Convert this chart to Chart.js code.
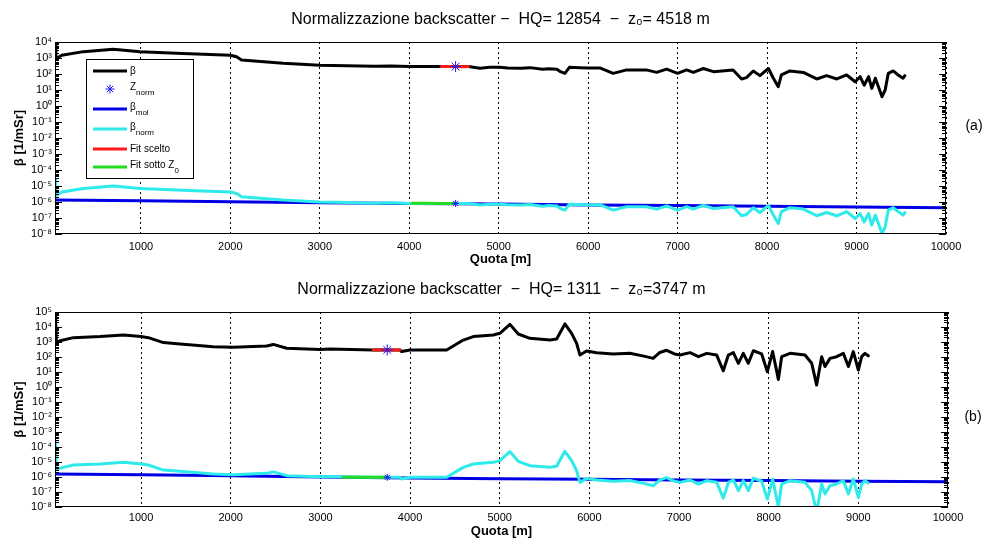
<!DOCTYPE html>
<html>
<head>
<meta charset="utf-8">
<script src="https://cdn.jsdelivr.net/npm/chart.js@4.4.0/dist/chart.umd.min.js"></script>
<style>
  html, body { margin: 0; padding: 0; background: #fff; }
  .panel { width: 988px; height: 270px; }
</style>
</head>
<body>
<div class="panel"><canvas id="chartA" width="988" height="270"></canvas></div>
<div class="panel"><canvas id="chartB" width="988" height="270"></canvas></div>
<script>
// ---- panel (a): HQ = 12854, z0 = 4518 m ----
const quotaA = [40, 50, 115, 357, 690, 990, 1470, 2000, 2070, 2125,
    2590, 3000, 3300, 3600, 3800, 4000, 4360, 4518, 4660, 4790,
    4900, 5010, 5100, 5250, 5350, 5490, 5560, 5650, 5690, 5740,
    5790, 5907, 6000, 6130, 6280, 6430, 6650, 6765, 6877, 7000,
    7100, 7175, 7287, 7400, 7620, 7715, 7770, 7845, 7920, 8015,
    8070, 8125, 8160, 8255, 8405, 8555, 8665, 8780, 8890, 8985,
    9040, 9085, 9135, 9170, 9210, 9285, 9320, 9355, 9410, 9465,
    9520, 9540];
const betaA = [9.0e3, 9.0e2, 1.5e3, 2.5e3, 3.5e3, 2.5e3, 1.9e3, 1.5e3, 1.2e3, 7.6e2,
    4.7e2, 3.5e2, 3.3e2, 3.0e2, 3.2e2, 2.9e2, 2.9e2, 2.9e2, 2.9e2, 2.3e2,
    2.6e2, 2.6e2, 2.4e2, 2.3e2, 2.5e2, 1.95e2, 2.15e2, 2.0e2, 1.4e2, 1.1e2,
    2.6e2, 2.5e2, 2.35e2, 2.4e2, 1.1e2, 1.8e2, 1.8e2, 1.26e2, 2.0e2, 1.1e2,
    1.8e2, 1.26e2, 2.2e2, 1.4e2, 1.8e2, 4.9e1, 5.9e1, 1.55e2, 7.9e1, 2.2e2,
    5.4e1, 1.6e1, 8.7e1, 1.55e2, 1.26e2, 4.9e1, 7.9e1, 4.9e1, 8.7e1, 3.3e1,
    6.8e1, 2.0e1, 6.8e1, 1.26e1, 5.4e1, 3.8, 1.0e1, 1.1e2, 1.55e2, 8.7e1,
    5.4e1, 7.9e1];
const betaNormA = [2.4e-5, 2.5e-6, 4.2e-6, 7.0e-6, 9.9e-6, 7.0e-6, 5.4e-6, 4.2e-6, 3.4e-6, 2.1e-6,
    1.32e-6, 9.9e-7, 9.3e-7, 8.5e-7, 9.0e-7, 8.2e-7, 8.2e-7, 8.2e-7, 8.2e-7, 6.5e-7,
    7.3e-7, 7.3e-7, 6.8e-7, 6.5e-7, 7.0e-7, 5.5e-7, 6.1e-7, 5.6e-7, 3.9e-7, 3.1e-7,
    7.3e-7, 7.0e-7, 6.6e-7, 6.8e-7, 3.1e-7, 5.1e-7, 5.1e-7, 3.6e-7, 5.6e-7, 3.1e-7,
    5.1e-7, 3.6e-7, 6.2e-7, 3.9e-7, 5.1e-7, 1.38e-7, 1.66e-7, 4.4e-7, 2.2e-7, 6.2e-7,
    1.52e-7, 4.5e-8, 2.5e-7, 4.4e-7, 3.6e-7, 1.38e-7, 2.2e-7, 1.38e-7, 2.5e-7, 9.3e-8,
    1.9e-7, 5.6e-8, 1.9e-7, 3.6e-8, 1.52e-7, 1.07e-8, 2.8e-8, 3.1e-7, 4.4e-7, 2.5e-7,
    1.52e-7, 2.2e-7];
const quotaMolA = [40, 1000, 2000, 3000, 4000, 5000, 6000, 7000, 8000, 9000, 10000];
const betaMolA = [1.35e-6, 1.2e-6, 1.05e-6, 8.9e-7, 8.1e-7, 7.4e-7, 6.6e-7, 6.0e-7, 5.5e-7, 4.9e-7, 4.3e-7];
const quotaFitA = [4360, 4440, 4518, 4600, 4660];
const fitSceltoA = [2.9e2, 2.95e2, 2.9e2, 2.85e2, 2.9e2];
const quotaSottoA = [4030, 4200, 4350, 4518];
const fitSottoA = [8.4e-7, 8.3e-7, 8.2e-7, 8.1e-7];
const quotaStarA = [4518, 4518];
const starA = [2.9e2, 8.2e-7];

// ---- panel (b): HQ = 1311, z0 = 3747 m ----
const quotaB = [41, 48, 55, 97, 245, 543, 803, 1000, 1081, 1249,
    1435, 1806, 2029, 2401, 2475, 2624, 2996, 3107, 3590, 3746,
    3887, 3906, 4000, 4408, 4594, 4705, 4928, 5002, 5114, 5207,
    5337, 5560, 5635, 5727, 5802, 5858, 5895, 5969, 6080, 6266,
    6451, 6620, 6711, 6786, 6861, 6950, 7011, 7123, 7216, 7309,
    7420, 7494, 7550, 7606, 7662, 7717, 7773, 7829, 7922, 7985,
    8044, 8108, 8145, 8238, 8405, 8480, 8535, 8591, 8628, 8684,
    8758, 8833, 8889, 8944, 9000, 9037, 9074, 9111];
const betaB = [6.0e4, 2.0e4, 1.0e3, 1.2e3, 1.95e3, 2.3e3, 2.95e3, 2.3e3, 1.95e3, 9.1e2,
    7.4e2, 4.9e2, 4.4e2, 5.4e2, 6.9e2, 3.8e2, 3.2e2, 3.4e2, 2.95e2, 2.95e2,
    2.95e2, 2.3e2, 2.95e2, 2.95e2, 1.35e3, 2.3e3, 2.95e3, 3.8e3, 1.5e4, 3.4e3,
    1.75e3, 1.35e3, 1.6e3, 1.6e4, 3.8e3, 8.1e2, 1.35e2, 2.5e2, 1.95e2, 1.6e2,
    1.8e2, 1.1e2, 8.1e1, 2.0e2, 2.8e2, 1.6e2, 1.35e2, 1.95e2, 1.05e2, 1.75e2,
    1.35e2, 1.2e1, 1.35e2, 1.95e2, 3.8e1, 1.75e2, 3.8e1, 2.6e2, 1.6e2, 1.05e1,
    2.3e2, 3.2, 1.05e2, 1.75e2, 1.35e2, 3.8e1, 1.35, 1.05e2, 2.3e1, 8.1e1,
    1.05e2, 1.75e2, 2.3e1, 2.3e2, 1.35e1, 1.05e2, 1.75e2, 1.2e2];
const betaNormB = [1.94e-4, 6.5e-5, 3.2e-6, 3.9e-6, 6.3e-6, 7.4e-6, 9.5e-6, 7.4e-6, 6.3e-6, 2.9e-6,
    2.4e-6, 1.59e-6, 1.42e-6, 1.75e-6, 2.2e-6, 1.23e-6, 1.04e-6, 1.1e-6, 9.5e-7, 9.5e-7,
    9.5e-7, 7.4e-7, 9.5e-7, 9.5e-7, 4.4e-6, 7.4e-6, 9.5e-6, 1.23e-5, 4.9e-5, 1.1e-5,
    5.7e-6, 4.4e-6, 5.2e-6, 5.2e-5, 1.23e-5, 2.6e-6, 4.4e-7, 8.1e-7, 6.3e-7, 5.2e-7,
    5.8e-7, 3.6e-7, 2.6e-7, 6.5e-7, 9.1e-7, 5.2e-7, 4.4e-7, 6.3e-7, 3.4e-7, 5.7e-7,
    4.4e-7, 3.9e-8, 4.4e-7, 6.3e-7, 1.23e-7, 5.7e-7, 1.23e-7, 8.4e-7, 5.2e-7, 3.4e-8,
    7.4e-7, 1.04e-8, 3.4e-7, 5.7e-7, 4.4e-7, 1.23e-7, 4.4e-9, 3.4e-7, 7.4e-8, 2.6e-7,
    3.4e-7, 5.7e-7, 7.4e-8, 7.4e-7, 4.4e-8, 3.4e-7, 5.7e-7, 3.9e-7];
const quotaMolB = [41, 1000, 2000, 3000, 4000, 5000, 6000, 7000, 8000, 9000, 10000];
const betaMolB = [1.6e-6, 1.4e-6, 1.2e-6, 1.0e-6, 8.5e-7, 7.6e-7, 7.0e-7, 6.3e-7, 5.8e-7, 5.3e-7, 4.8e-7];
const quotaFitB = [3590, 3680, 3746, 3820, 3887];
const fitSceltoB = [2.95e2, 3.0e2, 2.95e2, 2.9e2, 2.95e2];
const quotaSottoB = [3256, 3450, 3600, 3746];
const fitSottoB = [9.8e-7, 9.6e-7, 9.5e-7, 9.5e-7];
const quotaStarB = [3746, 3746];
const starB = [2.95e2, 9.5e-7];

const quotaTicks = [1000, 2000, 3000, 4000, 5000, 6000, 7000, 8000, 9000, 10000];

const FONT = '"Liberation Sans", Arial, Helvetica, sans-serif';
const C_BETA = '#000000', C_MOL = '#0000e6', C_NORM = '#2eeaea';
const C_RED = '#ff1a1a', C_GREEN = '#22dd22', C_STAR = '#1a1aff';

const SUP = {'0': '⁰', '1': '¹', '2': '²', '3': '³', '4': '⁴', '5': '⁵', '6': '⁶', '7': '⁷', '8': '⁸', '9': '⁹', '-': '⁻'};
const pow10Label = v => '10' + String(Math.round(Math.log10(v))).split('').map(c => SUP[c]).join('');
const pts = (xs, ys) => xs.map((x, i) => ({x: x, y: ys[i]}));

function lineSet(label, xs, ys, color, order) {
    return {
        label: label, data: pts(xs, ys), borderColor: color, backgroundColor: color,
        borderWidth: 3, pointRadius: 0, tension: 0, borderJoinStyle: 'round',
        borderCapStyle: 'round', order: order
    };
}

// frame, inside log ticks on both sides, panel tag
const framePlugin = {
    id: 'frame',
    afterDraw(chart, args, opts) {
        const {ctx, chartArea: a} = chart;
        const y = chart.scales.y;
        ctx.save();
        ctx.strokeStyle = '#000';
        ctx.lineWidth = 1;
        ctx.strokeRect(a.left + 0.5, a.top + 0.5, a.right - a.left - 1, a.bottom - a.top - 1);
        ctx.beginPath();
        for (let e = opts.minExp; e < opts.maxExp; e++) {
            for (let m = 1; m <= 9; m++) {
                const py = Math.round(y.getPixelForValue(m * Math.pow(10, e))) + 0.5;
                const len = m === 1 ? 7 : 4;
                ctx.moveTo(a.left, py); ctx.lineTo(a.left + len, py);
                ctx.moveTo(a.right, py); ctx.lineTo(a.right - len, py);
            }
        }
        ctx.stroke();
        ctx.fillStyle = '#000';
        ctx.font = '14px ' + FONT;
        ctx.textAlign = 'center';
        ctx.textBaseline = 'middle';
        ctx.fillText(opts.tag, opts.tagX, opts.tagY);
        ctx.restore();
    }
};

// MATLAB-style legend box inside the axes
const legendItems = [
    {main: 'β', sub: '', color: C_BETA, star: false},
    {main: 'Z', sub: 'norm', color: C_STAR, star: true},
    {main: 'β', sub: 'mol', color: C_MOL, star: false},
    {main: 'β', sub: 'norm', color: C_NORM, star: false},
    {main: 'Fit scelto', sub: '', color: C_RED, star: false},
    {main: 'Fit sotto Z', sub: '0', color: C_GREEN, star: false}
];
const legendRows = [71, 89, 109, 129, 149, 167];

const boxLegendPlugin = {
    id: 'boxLegend',
    afterDraw(chart, args, opts) {
        if (!opts.show) return;
        const ctx = chart.ctx;
        ctx.save();
        ctx.fillStyle = '#fff';
        ctx.fillRect(86, 59, 107, 119);
        ctx.strokeStyle = '#000';
        ctx.lineWidth = 1;
        ctx.strokeRect(86.5, 59.5, 107, 119);
        legendItems.forEach((it, i) => {
            const ry = legendRows[i];
            ctx.strokeStyle = it.color;
            if (it.star) {
                const r = 4.5;
                ctx.lineWidth = 1;
                ctx.beginPath();
                for (let k = 0; k < 4; k++) {
                    const ang = k * Math.PI / 4;
                    ctx.moveTo(110 - r * Math.cos(ang), ry - r * Math.sin(ang));
                    ctx.lineTo(110 + r * Math.cos(ang), ry + r * Math.sin(ang));
                }
                ctx.stroke();
            } else {
                ctx.lineWidth = 3;
                ctx.beginPath();
                ctx.moveTo(93, ry); ctx.lineTo(127, ry);
                ctx.stroke();
            }
            ctx.fillStyle = '#000';
            ctx.textAlign = 'left';
            ctx.textBaseline = 'middle';
            ctx.font = '10px ' + FONT;
            const my = it.sub ? ry - 2 : ry;
            ctx.fillText(it.main, 130, my);
            if (it.sub) {
                const w = ctx.measureText(it.main).width;
                ctx.font = '8px ' + FONT;
                ctx.fillText(it.sub, 130 + w, ry + 4);
            }
        });
        ctx.restore();
    }
};

function makeChart(id, p) {
    return new Chart(document.getElementById(id).getContext('2d'), {
        type: 'line',
        data: {
            datasets: [
                {
                    label: 'Znorm', data: pts(p.quotaStar, p.star), showLine: false,
                    pointStyle: 'star', pointRadius: [5.5, 3.5], borderColor: C_STAR,
                    backgroundColor: 'transparent', borderWidth: 1, order: 0
                },
                lineSet('Fit sotto Z0', p.quotaSotto, p.fitSotto, C_GREEN, 1),
                lineSet('Fit scelto', p.quotaFit, p.fitScelto, C_RED, 2),
                lineSet('βnorm', p.quota, p.betaNorm, C_NORM, 3),
                lineSet('β', p.quota, p.beta, C_BETA, 4),
                lineSet('βmol', p.quotaMol, p.betaMol, C_MOL, 5)
            ]
        },
        options: {
            responsive: false,
            animation: false,
            devicePixelRatio: 1,
            layout: { padding: { left: 0, right: p.padRight, top: 0, bottom: 0 } },
            scales: {
                x: {
                    type: 'linear',
                    min: 40,
                    max: 10000,
                    afterFit: s => { s.height = p.xHeight; },
                    afterBuildTicks: s => { s.ticks = quotaTicks.map(v => ({value: v})); },
                    grid: { color: '#000', lineWidth: 1, drawTicks: false },
                    border: { display: false, dash: [2, 3] },
                    ticks: {
                        color: '#000', padding: p.xTickPad, maxRotation: 0,
                        font: { family: FONT, size: 11 },
                        callback: v => String(v)
                    },
                    title: {
                        display: true, text: 'Quota [m]', color: '#000',
                        font: { family: FONT, size: 13, weight: 'bold' },
                        padding: { top: 0, bottom: p.xTitlePad }
                    }
                },
                y: {
                    type: 'logarithmic',
                    min: 1e-8,
                    max: p.yMax,
                    afterFit: s => { s.width = 55; },
                    afterBuildTicks: s => {
                        const t = [];
                        for (let e = -8; e <= Math.round(Math.log10(p.yMax)); e++) t.push({value: Math.pow(10, e)});
                        s.ticks = t;
                    },
                    grid: { display: false, drawTicks: false },
                    border: { display: false },
                    ticks: {
                        color: '#000', padding: 3, autoSkip: false,
                        font: { family: FONT, size: 11 },
                        callback: v => pow10Label(v)
                    },
                    title: {
                        display: true, text: 'β [1/mSr]', color: '#000',
                        font: { family: FONT, size: 13, weight: 'bold' },
                        padding: { top: 12, bottom: 0 }
                    }
                }
            },
            plugins: {
                legend: { display: false },
                tooltip: { enabled: false },
                title: {
                    display: true, text: p.title, color: '#000', fullSize: false,
                    font: { family: FONT, size: 16, weight: 'normal', lineHeight: 1 },
                    padding: { top: 12, bottom: 14 }
                },
                frame: { minExp: -8, maxExp: Math.round(Math.log10(p.yMax)), tag: p.tag, tagX: p.tagX, tagY: p.tagY },
                boxLegend: { show: p.legend }
            }
        },
        plugins: [framePlugin, boxLegendPlugin]
    });
}

makeChart('chartA', {
    title: 'Normalizzazione backscatter −  HQ= 12854  −  z₀= 4518 m',
    quota: quotaA, beta: betaA, betaNorm: betaNormA,
    quotaMol: quotaMolA, betaMol: betaMolA,
    quotaFit: quotaFitA, fitScelto: fitSceltoA,
    quotaSotto: quotaSottoA, fitSotto: fitSottoA,
    quotaStar: quotaStarA, star: starA,
    yMax: 1e4, padRight: 42, xHeight: 36, xTickPad: 6, xTitlePad: 3,
    legend: true, tag: '(a)', tagX: 974, tagY: 126
});

makeChart('chartB', {
    title: 'Normalizzazione backscatter  −  HQ= 1311  −  z₀=3747 m',
    quota: quotaB, beta: betaB, betaNorm: betaNormB,
    quotaMol: quotaMolB, betaMol: betaMolB,
    quotaFit: quotaFitB, fitScelto: fitSceltoB,
    quotaSotto: quotaSottoB, fitSotto: fitSottoB,
    quotaStar: quotaStarB, star: starB,
    yMax: 1e5, padRight: 40, xHeight: 33, xTickPad: 4, xTitlePad: 1,
    legend: false, tag: '(b)', tagX: 973, tagY: 147
});
</script>
</body>
</html>
